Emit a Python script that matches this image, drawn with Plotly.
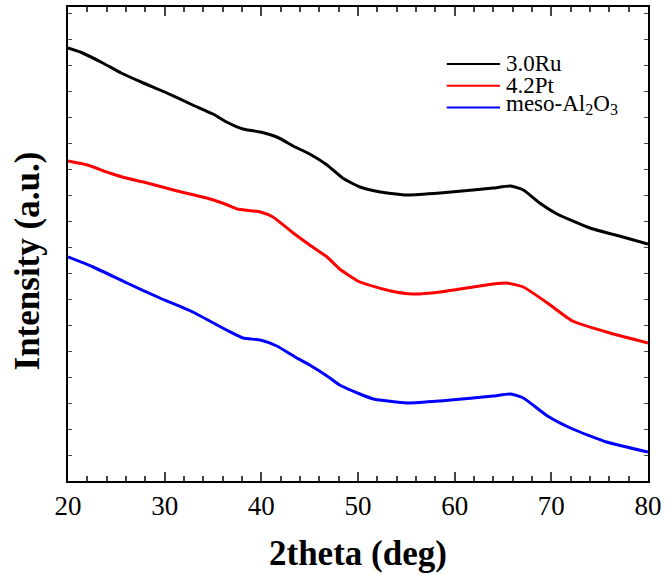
import plotly.graph_objects as go

# Data (2theta in degrees, intensity in arbitrary units)
ru_x = [20, 21.5, 23.6, 25.5, 27.8, 30.0, 32.9, 35.0, 36.4, 38.1, 39.9, 41.6, 43.5, 45.0, 46.8, 48.4, 50.2, 52.3, 55.1, 58.5, 61.9, 64.0, 65.8, 67.1, 68.8, 70.6, 74.0, 77.4, 80]
ru_y = [433, 428, 418, 408, 398, 389, 376, 367, 359, 352, 349, 344, 334, 327, 316, 303, 294, 289, 286, 288, 291, 293, 295, 291, 278, 267, 253, 244, 237]

pt_x = [20, 22.0, 24.3, 26.0, 27.8, 31.3, 34.7, 36.5, 37.5, 39.9, 41.2, 43.3, 45.0, 46.8, 48.1, 50.2, 53.4, 55.7, 58.5, 61.9, 64.0, 65.4, 67.1, 69.6, 72.2, 75.7, 80]
pt_y = [320, 316, 308, 303, 299, 290, 282, 276, 272, 269, 264, 248, 236, 224, 212, 199, 190, 187, 189, 194, 197, 198, 194, 178, 160, 149, 138]

al_x = [20, 22.6, 26.1, 29.5, 32.9, 36.4, 38.1, 39.9, 41.6, 43.5, 45.0, 46.8, 48.1, 50.2, 51.6, 55.1, 58.5, 61.9, 64.0, 65.8, 67.1, 69.6, 72.2, 75.7, 80]
al_y = [224, 214, 198, 183, 169, 151, 143, 141, 135, 124, 116, 105, 96, 87, 82, 78, 80, 83, 85, 87, 83, 65, 52, 39, 29]

names = ["3.0Ru", "4.2Pt", "meso-Al<sub>2</sub>O<sub>3</sub>"]
colors = ["#000000", "#ff0000", "#0000ff"]
series = [(ru_x, ru_y), (pt_x, pt_y), (al_x, al_y)]

FONT = "Liberation Serif, Times New Roman, serif"

fig = go.Figure()
for (xs, ys), name, col in zip(series, names, colors):
    fig.add_trace(go.Scatter(
        x=xs, y=ys, mode="lines", name=name, showlegend=False,
        line=dict(color=col, width=3, shape="spline", smoothing=0.5),
    ))

# Hand-drawn legend (line sample + real text label), in paper coordinates
leg_y = [0.880, 0.834, 0.788]
for name, col, ly in zip(names, colors, leg_y):
    fig.add_shape(type="line", xref="paper", yref="paper",
                  x0=0.653, x1=0.745, y0=ly, y1=ly,
                  line=dict(color=col, width=2))
    fig.add_annotation(xref="paper", yref="paper", x=0.753, y=ly,
                       xanchor="left", yanchor="middle", showarrow=False,
                       height=21, valign="middle", borderpad=0,
                       text=name, font=dict(family=FONT, size=23, color="black"),
                       yshift=3 if "sub" in name else 0)

# Axis titles
fig.add_annotation(xref="paper", yref="paper", x=0.5, y=-0.152,
                   xanchor="center", yanchor="middle", showarrow=False,
                   text="<b>2theta (deg)</b>", font=dict(family=FONT, size=35, color="black"))
fig.add_annotation(xref="paper", yref="paper", x=-0.07, y=0.464,
                   xanchor="center", yanchor="middle", showarrow=False, textangle=-90,
                   text="<b>Intensity (a.u.)</b>", font=dict(family=FONT, size=35, color="black"))

fig.update_layout(
    width=665, height=575,
    margin=dict(l=68, r=17, t=7, b=94),
    paper_bgcolor="white", plot_bgcolor="white",
    font=dict(family=FONT, color="black"),
    showlegend=False,
    xaxis=dict(
        range=[20, 80], dtick=10, tick0=20,
        ticks="inside", ticklen=9, tickwidth=1.5,
        minor=dict(dtick=2, ticks="inside", ticklen=5, tickwidth=1.5),
        showline=True, linewidth=2, linecolor="black", mirror="ticks",
        showgrid=False, zeroline=False, automargin=False,
        tickfont=dict(family=FONT, size=27),
    ),
    yaxis=dict(
        range=[0, 474], dtick=26, tick0=0,
        ticks="inside", ticklen=4, tickwidth=1,
        showticklabels=False,
        showline=True, linewidth=2, linecolor="black", mirror="ticks",
        showgrid=False, zeroline=False, automargin=False,
    ),
)

fig.write_html("out.html", config={"displayModeBar": False},
               post_script="document.body.style.margin='0px';document.body.style.padding='0px';")
